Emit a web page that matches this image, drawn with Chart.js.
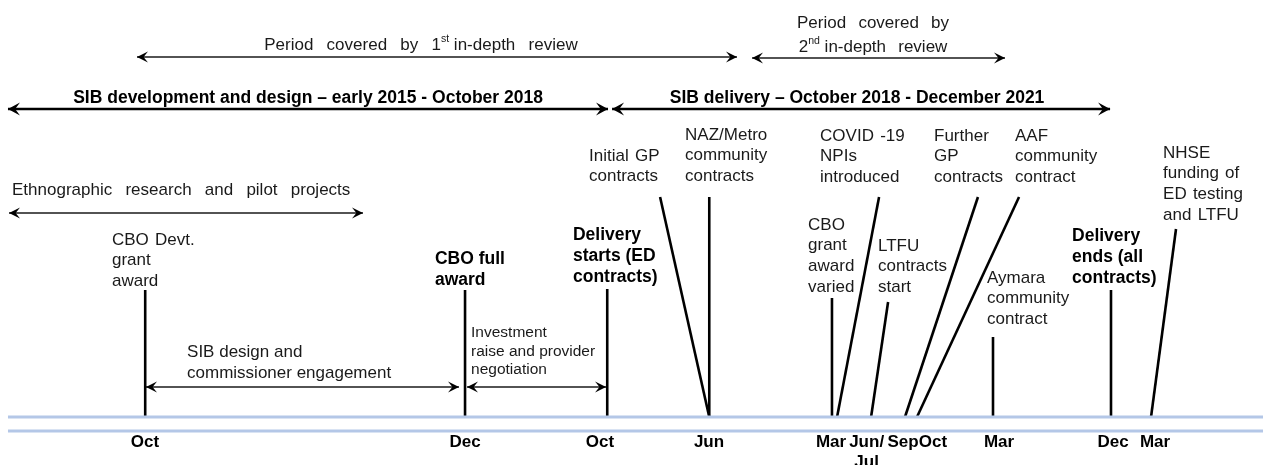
<!DOCTYPE html>
<html>
<head>
<meta charset="utf-8">
<title>SIB timeline</title>
<script src="https://cdn.jsdelivr.net/npm/chart.js@4"></script>
<style>
  html, body { margin: 0; padding: 0; background: #fff; }
  #wrap { width: 1263px; height: 465px; position: relative; }
</style>
</head>
<body>
<div id="wrap"><canvas id="timeline"></canvas></div>
<script>
// x = months from Jan 2015, as spaced along the drawn timeline; y = height above the timeline

// events hanging off the timeline
const eventLabels = [
  ['CBO Devt.', 'grant', 'award'],
  ['CBO full', 'award'],
  ['Delivery', 'starts (ED', 'contracts)'],
  ['Initial GP', 'contracts'],
  ['NAZ/Metro', 'community', 'contracts'],
  ['CBO', 'grant', 'award', 'varied'],
  ['COVID -19', 'NPIs', 'introduced'],
  ['LTFU', 'contracts', 'start'],
  ['Further', 'GP', 'contracts'],
  ['AAF', 'community', 'contract'],
  ['Aymara', 'community', 'contract'],
  ['Delivery', 'ends (all', 'contracts)'],
  ['NHSE', 'funding of', 'ED testing', 'and LTFU']
];
const eventMonths    = [9, 33.45, 44.32, 52.12, 52.12, 61.5, 61.89, 64.49, 67.08, 68.0, 73.81, 82.83, 85.89];
const eventTopMonths = [9, 33.45, 44.32, 48.36, 52.12, 61.5, 65.1, 65.79, 72.66, 75.8, 73.81, 82.83, 87.8];
const eventHeights   = [127, 127, 128, 220, 220, 119, 220, 115, 220, 220, 80, 127, 188];

// periods drawn as double-headed arrows
const periodLabels = [
  ['Period covered by 1^st in-depth review'],
  ['Period covered by', '2^nd in-depth review'],
  ['SIB development and design – early 2015 - October 2018'],
  ['SIB delivery – October 2018 - December 2021'],
  ['Ethnographic research and pilot projects'],
  ['SIB design and', 'commissioner engagement'],
  ['Investment', 'raise and provider', 'negotiation']
];
const periodStart = [8.37, 55.39, -1.49, 44.69, -1.41, 9.06, 33.6];
const periodEnd   = [54.24, 74.73, 44.38, 82.76, 25.65, 32.99, 44.23];
const periodLevel = [360, 359, 308, 308, 204, 30, 30];

// month names under the timeline
const tickLabels = [['Oct'], ['Dec'], ['Oct'], ['Jun'], ['Mar'], ['Jun/', 'Jul'], ['Sep'], ['Oct'], ['Mar'], ['Dec'], ['Mar']];
const tickMonths = [8.98, 33.45, 43.77, 52.1, 61.43, 64.15, 66.93, 69.22, 74.27, 82.99, 86.2];

// timeline itself (two pale blue rules)
const baselineLevels = [0, -14];
const baselineStart = -1.49, baselineEnd = 94.45;

// ---- layout / style ----
const X_MIN = -2.1, X_MAX = 94.45, Y_MIN = -48, Y_MAX = 417;
const FONT = '"Liberation Sans", Arial, Helvetica, sans-serif';
const eventLabelAt = [[6.46, 177], [31.15, 158], [41.7, 182], [42.93, 261], [50.27, 282], [59.67, 192],
  [60.59, 281], [65.02, 171], [69.3, 281], [75.49, 281], [73.35, 139], [79.85, 181], [86.81, 264]];
const eventBold = [false, true, true, false, false, false, false, false, false, false, false, true, false];
const periodLabelAt = [[30.08, 372, 'center'], [64.64, 394, 'center'], [21.45, 319, 'center'], [63.42, 319, 'center'],
  [-1.18, 227, 'left'], [12.2, 65, 'left'], [33.91, 84, 'left']];
const periodHeavy = [false, false, true, true, false, false, false];
const periodGap = [8.5, 7.5, 0, 0, 8.5, 0, 0];
const periodSize = [17, 17, 17.5, 17.5, 17, 17, 15.5];
const periodSpacing = [24, 24, 21, 21, 21, 21, 18.5];

function fontStr(weight, size){ return `${weight} ${size}px ${FONT}`; }

// text with optional ^superscript and extra word spacing
function drawRich(ctx, line, x, y, size, weight, align, gap){
  const base = fontStr(weight, size), sup = fontStr(weight, size * 0.62);
  const pieces = [];
  line.split(/(\^[a-z]+)/).forEach(p => {
    if(!p) return;
    if(p[0] === '^'){ pieces.push({t: p.slice(1), f: sup, dy: -size * 0.34, sup: true}); return; }
    p.split(/( )/).forEach(w => { if(w) pieces.push({t: w, f: base, dy: 0, sp: w === ' '}); });
  });
  let total = 0;
  pieces.forEach((pc, k) => {
    ctx.font = pc.f;
    const afterSup = k > 0 && pieces[k - 1].sup;
    pc.w = ctx.measureText(pc.t).width + (pc.sp && !afterSup ? gap : 0);
    total += pc.w;
  });
  let cx = align === 'center' ? x - total / 2 : x;
  ctx.textAlign = 'left';
  ctx.textBaseline = 'middle';
  pieces.forEach(pc => { ctx.font = pc.f; if(!pc.sp) ctx.fillText(pc.t, cx, y + pc.dy); cx += pc.w; });
}

function arrowHead(ctx, tipX, tipY, dir, len, half){
  ctx.beginPath();
  ctx.moveTo(tipX, tipY);
  ctx.lineTo(tipX - dir * len, tipY - half);
  ctx.lineTo(tipX - dir * len * 0.6, tipY);
  ctx.lineTo(tipX - dir * len, tipY + half);
  ctx.closePath();
  ctx.fill();
}

const annotations = {
  id: 'annotations',
  afterDatasetsDraw(chart){
    const ctx = chart.ctx;
    const xs = chart.scales.x, ys = chart.scales.y;
    ctx.save();
    ctx.fillStyle = '#000';

    // arrow heads on the periods
    periodLabels.forEach((_, i) => {
      const py = ys.getPixelForValue(periodLevel[i]);
      const len = periodHeavy[i] ? 12 : 11, half = periodHeavy[i] ? 6.5 : 5.5;
      arrowHead(ctx, xs.getPixelForValue(periodStart[i]), py, -1, len, half);
      arrowHead(ctx, xs.getPixelForValue(periodEnd[i]), py, 1, len, half);
    });

    // period captions
    periodLabels.forEach((lines, i) => {
      const [mx, lv, align] = periodLabelAt[i];
      const px = xs.getPixelForValue(mx), py = ys.getPixelForValue(lv);
      ctx.fillStyle = periodHeavy[i] ? '#000' : '#1a1a1a';
      lines.forEach((ln, k) => drawRich(ctx, ln, px, py + k * periodSpacing[i], periodSize[i],
        periodHeavy[i] ? 'bold' : 'normal', align, periodGap[i]));
    });

    // event captions
    eventLabels.forEach((lines, i) => {
      const [mx, lv] = eventLabelAt[i];
      const px = xs.getPixelForValue(mx), py = ys.getPixelForValue(lv);
      ctx.fillStyle = eventBold[i] ? '#000' : '#1a1a1a';
      lines.forEach((ln, k) => drawRich(ctx, ln, px, py + k * (eventBold[i] ? 21 : 20.7),
        eventBold[i] ? 17.5 : 17, eventBold[i] ? 'bold' : 'normal', 'left', eventBold[i] ? 0 : 1.5));
    });

    // month names
    ctx.fillStyle = '#000';
    tickLabels.forEach((lines, i) => {
      const px = xs.getPixelForValue(tickMonths[i]), py = ys.getPixelForValue(-25);
      lines.forEach((ln, k) => drawRich(ctx, ln, px, py + k * 20, 17, 'bold', 'center', 0));
    });
    ctx.restore();
  }
};

const lineDefaults = { showLine: true, pointRadius: 0, pointHoverRadius: 0, fill: false, tension: 0, clip: false, borderCapStyle: 'butt' };
const datasets = [];

baselineLevels.forEach(lv => datasets.push(Object.assign({
  label: 'timeline',
  data: [{x: baselineStart, y: lv}, {x: baselineEnd, y: lv}],
  borderColor: '#b4c7e7', borderWidth: 3
}, lineDefaults)));

eventLabels.forEach((lines, i) => datasets.push(Object.assign({
  label: lines.join(' '),
  data: [{x: eventMonths[i], y: 0}, {x: eventTopMonths[i], y: eventHeights[i]}],
  borderColor: '#000', borderWidth: 2.6
}, lineDefaults)));

periodLabels.forEach((lines, i) => datasets.push(Object.assign({
  label: lines.join(' ').replace('^', ''),
  data: [{x: periodStart[i], y: periodLevel[i]}, {x: periodEnd[i], y: periodLevel[i]}],
  borderColor: periodHeavy[i] ? '#000' : '#1a1a1a', borderWidth: periodHeavy[i] ? 2.6 : 1.4
}, lineDefaults)));

new Chart(document.getElementById('timeline').getContext('2d'), {
  type: 'scatter',
  data: { datasets },
  options: {
    responsive: true,
    maintainAspectRatio: false,
    animation: false,
    events: [],
    layout: { padding: 0 },
    plugins: { legend: { display: false }, tooltip: { enabled: false } },
    scales: {
      x: { type: 'linear', min: X_MIN, max: X_MAX, display: false },
      y: { type: 'linear', min: Y_MIN, max: Y_MAX, display: false }
    }
  },
  plugins: [annotations]
});
</script>
</body>
</html>
